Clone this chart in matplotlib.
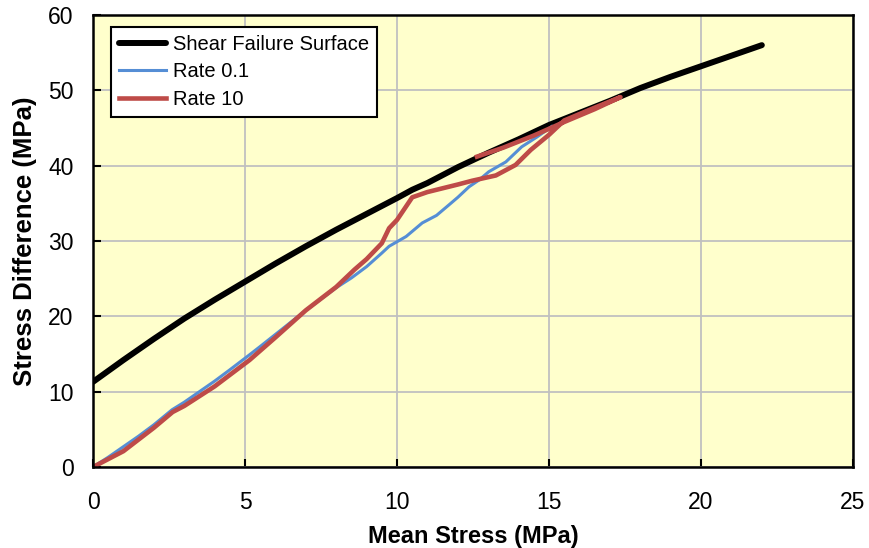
import matplotlib.pyplot as plt

plt.rcParams['font.family'] = ['Liberation Sans', 'DejaVu Sans']

# shear failure surface
shear_x = [0, 1, 2, 3, 4, 5, 6, 7, 8, 9, 10, 10.5, 11, 12, 13, 14, 15, 16, 17, 18, 19, 20, 21, 22]
shear_y = [11.3, 14.2, 17.0, 19.7, 22.2, 24.6, 27.0, 29.3, 31.5, 33.6, 35.7, 36.8, 37.7, 39.8,
           41.7, 43.5, 45.4, 47.0, 48.6, 50.3, 51.8, 53.2, 54.6, 56.0]

# rate 0.1 test
slow_x = [0, 0.5, 1, 1.5, 2, 2.6, 3, 3.5, 4, 4.5, 5.15, 5.5, 6, 6.5, 7, 7.5, 8, 8.5, 9,
          9.5, 9.74, 10.3, 10.83, 11.3, 11.71, 12.0, 12.37, 12.7, 13.02, 13.58, 14.1, 14.6, 15.09]
slow_y = [0, 1.3, 2.7, 4.1, 5.6, 7.6, 8.6, 10.0, 11.4, 12.9, 14.9, 16.0, 17.6, 19.2, 20.8,
          22.3, 23.8, 25.1, 26.6, 28.4, 29.3, 30.6, 32.4, 33.4, 34.8, 35.8, 37.2, 38.1, 39.2,
          40.5, 42.5, 43.8, 45.2]

# rate 10 test (loading, then unloading along the surface)
fast_x = [0, 1, 2, 2.62, 3, 4, 5.15, 6, 7, 8, 8.6, 9, 9.5, 9.74, 10, 10.5, 11, 12, 12.47,
          13.25, 13.9, 14.4, 15.0, 15.5, 16.5, 17.35, 16.5, 15.5, 14.5, 13.5, 12.63]
fast_y = [0, 2.1, 5.2, 7.3, 8.1, 10.7, 14.2, 17.2, 20.8, 23.9, 26.2, 27.6, 29.7, 31.7, 32.8,
          35.8, 36.5, 37.5, 38.0, 38.7, 40.1, 42.1, 44.1, 46.0, 47.7, 49.1, 47.5, 45.8, 44.0,
          42.4, 41.2]

fig = plt.figure(figsize=(8.7, 5.48), dpi=100)
ax = fig.add_axes([0.1069, 0.1478, 0.8736, 0.8248])
ax.set_facecolor('#FFFFCC')

ax.plot(shear_x, shear_y, color='black', lw=4.3, solid_capstyle='round',
        solid_joinstyle='round', label='Shear Failure Surface')
ax.plot(slow_x, slow_y, color='#558ED5', lw=2.2, label='Rate 0.1')
ax.plot(fast_x, fast_y, color='#BE4B48', lw=3.3, solid_joinstyle='round', label='Rate 10')

ax.set_xlim(0, 25)
ax.set_ylim(0, 60)
ax.set_xticks(range(0, 26, 5))
ax.set_yticks(range(0, 61, 10))
ax.grid(True, color='#C0C0C0', lw=1.3)
ax.set_axisbelow(True)
ax.tick_params(direction='in', length=6, width=1.5, labelsize=16.5)
ax.tick_params(axis='x', pad=17)
ax.tick_params(axis='y', pad=14)
for s in ax.spines.values():
    s.set_linewidth(1.8)

ax.set_xlabel('Mean Stress (MPa)', fontsize=17, fontweight='bold', labelpad=8)
ax.set_ylabel('Stress Difference (MPa)', fontsize=18.5, fontweight='bold', labelpad=8)

leg = ax.legend(loc='upper left', bbox_to_anchor=(0.024, 0.974), fontsize=14.5,
                fancybox=False, framealpha=1, edgecolor='black', handlelength=2.3,
                borderpad=0.4, labelspacing=0.42, handletextpad=0.35, borderaxespad=0)
leg.get_frame().set_linewidth(1.5)

fig.savefig('out.png', dpi=100)
